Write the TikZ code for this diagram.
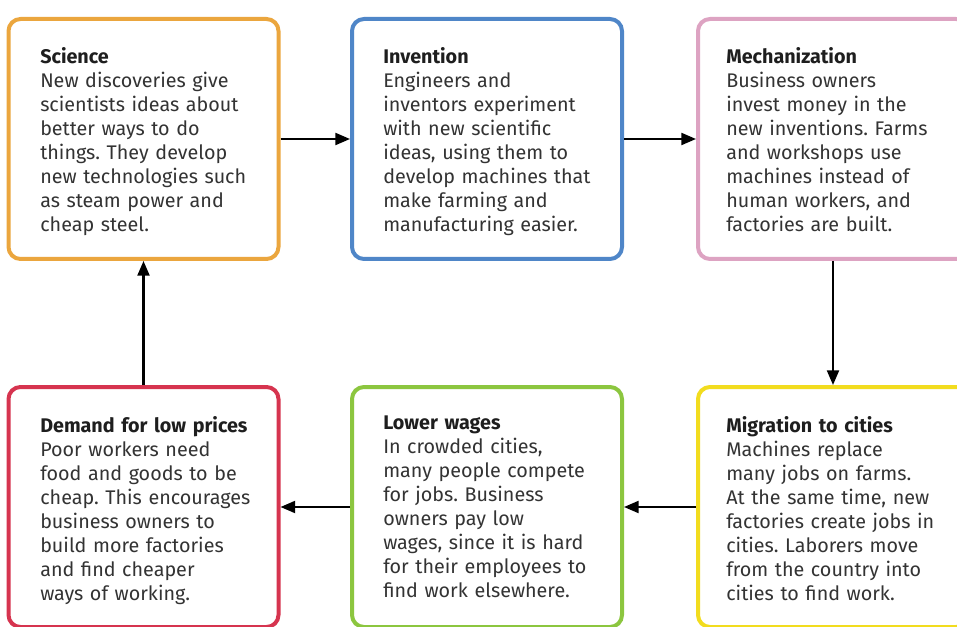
\documentclass[tikz,border=0pt]{standalone}
\usepackage{fontspec}
\setmainfont{Fira Sans}
\usetikzlibrary{arrows.meta}
\definecolor{cOrange}{HTML}{EBA63E}
\definecolor{cBlue}{HTML}{4F86C8}
\definecolor{cPink}{HTML}{DDA3C2}
\definecolor{cRed}{HTML}{D6344F}
\definecolor{cGreen}{HTML}{8CC63F}
\definecolor{cYellow}{HTML}{F2DC1E}
\definecolor{bodygray}{HTML}{333333}
\definecolor{titleblack}{HTML}{1E1E1E}
\frenchspacing
\begin{document}
\begin{tikzpicture}[x=0.75pt,y=-0.75pt,
  box/.style={draw=#1, line width=3pt, rounded corners=9pt, fill=white,
    minimum width=202.5pt, minimum height=180pt, inner sep=0pt},
  txt/.style={anchor=north west, align=left, inner sep=0pt, text width=190pt,
    font=\fontsize{14.8}{18}\selectfont, text=bodygray},
  arr/.style={line width=1.6pt, draw=black,
    -{Triangle[length=11pt,width=9pt]}}]
\useasboundingbox (0,0) rectangle (957,627);
\clip (0,0) rectangle (957,627);
% boxes
\node[box=cOrange] (sci) at (143.5,139) {};
\node[box=cBlue]   (inv) at (487,139) {};
\node[box=cPink]   (mec) at (833,139) {};
\node[box=cRed]    (dem) at (143.5,507) {};
\node[box=cGreen]  (low) at (487,507) {};
\node[box=cYellow] (mig) at (833,507) {};
% texts
\node[txt] (tsci) at (40,47) {{\bfseries\color{titleblack}Science}\\
New discoveries give\\ scientists ideas about\\ better ways to do\\ things. They develop\\ new technologies such\\ as steam power and\\ cheap steel.};
\node[txt] (tinv) at (383,47) {{\bfseries\color{titleblack}Invention}\\
Engineers and\\ inventors experiment\\ with new scientific\\ ideas, using them to\\ develop machines that\\ make farming and\\ manufacturing easier.};
\node[txt] (tmec) at (726,47) {{\bfseries\color{titleblack}Mechanization}\\
Business owners\\ invest money in the\\ new inventions. Farms\\ and workshops use\\ machines instead of\\ human workers, and\\ factories are built.};
\node[txt] (tdem) at (40,416) {{\bfseries\color{titleblack}Demand for low prices}\\
Poor workers need\\ food and goods to be\\ cheap. This encourages\\ business owners to\\ build more factories\\ and find cheaper\\ ways of working.};
\node[txt] (tlow) at (383,416) {{\bfseries\color{titleblack}Lower wages}\\
In crowded cities,\\ many people compete\\ for jobs. Business\\ owners pay low\\ wages, since it is hard\\ for their employees to\\ find work elsewhere.};
\node[txt] (tmig) at (726,416) {{\bfseries\color{titleblack}Migration to cities}\\
Machines replace\\ many jobs on farms.\\ At the same time, new\\ factories create jobs in\\ cities. Laborers move\\ from the country into\\ cities to find work.};
% arrows
\draw[arr] (sci) -- (inv);
\draw[arr] (inv) -- (mec);
\draw[arr] (mec) -- (mig);
\draw[arr] (mig) -- (low);
\draw[arr] (low) -- (dem);
\draw[arr] (dem) -- (sci);
\end{tikzpicture}
\end{document}
